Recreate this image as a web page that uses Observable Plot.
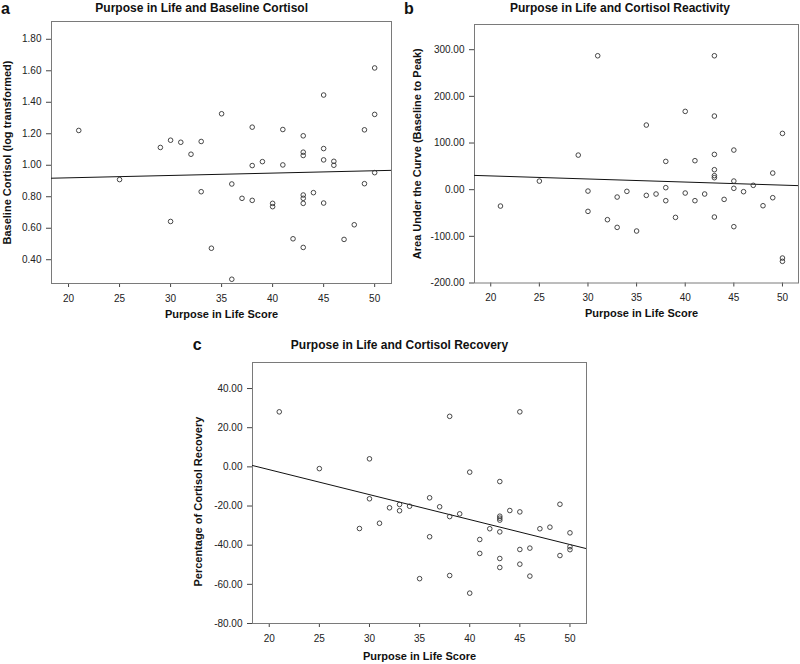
<!DOCTYPE html>
<html><head><meta charset="utf-8">
<script src="https://cdn.jsdelivr.net/npm/d3@7"></script>
<script src="https://cdn.jsdelivr.net/npm/@observablehq/plot@0.6"></script>
<style>
body{margin:0;background:#fff;}
#wrap{position:relative;width:800px;height:664px;font-family:"Liberation Sans",Arial,sans-serif;color:#111;overflow:hidden;}
.panel{position:absolute;}
.t{position:absolute;font-weight:bold;font-size:12px;line-height:12px;white-space:nowrap;transform:translateX(-50%);}
.l{position:absolute;font-weight:bold;font-size:16px;line-height:16px;}
</style></head><body>
<div id="wrap">
  <div class="l" style="left:1px;top:0.5px">a</div>
  <div class="l" style="left:404px;top:0.5px">b</div>
  <div class="l" style="left:192.7px;top:337.2px">c</div>
  <div class="t" style="left:201.7px;top:1.8px">Purpose in Life and Baseline Cortisol</div>
  <div class="t" style="left:620px;top:1.8px">Purpose in Life and Cortisol Reactivity</div>
  <div class="t" style="left:399.5px;top:338.8px">Purpose in Life and Cortisol Recovery</div>
</div>
<script>
// Shared x axis
const xTicks = [20, 25, 30, 35, 40, 45, 50];
const xDomain = [18.33, 51.65];
const xLabel = "Purpose in Life Score";

// Panel a: Purpose in Life vs Baseline Cortisol (log transformed)
const scoreA = [21,25,29,30,30,31,32,33,33,34,35,36,36,37,38,38,38,39,40,40,41,41,42,43,43,43,43,43,43,43,44,45,45,45,45,46,46,47,48,49,49,50,50,50];
const baseA = [1.221,0.909,1.113,1.159,0.643,1.146,1.070,1.151,0.832,0.473,1.327,0.881,0.276,0.790,1.242,0.998,0.777,1.023,0.758,0.737,1.227,1.002,0.533,1.187,1.083,1.062,0.811,0.790,0.758,0.478,0.826,1.446,1.106,1.034,0.760,1.025,1.000,0.529,0.622,1.225,0.883,1.618,1.323,0.953];
const yTicksA = [0.4, 0.6, 0.8, 1.0, 1.2, 1.4, 1.6, 1.8];
const yLabelA = "Baseline Cortisol (log transformed)";

// Panel b: Purpose in Life vs Area Under the Curve
const scoreB = [21,25,29,30,30,31,32,33,33,34,35,36,36,37,38,38,38,39,40,40,41,41,42,43,43,43,43,43,43,43,44,45,45,45,45,46,47,48,49,49,50,50,50];
const aucB = [-35.1,18.4,74.1,-3,-46.5,287,-64.3,-15.8,-80.8,-3.6,-88.6,138.5,-12.2,-9.3,60.6,4.3,-23.6,-59.4,167.8,-7.2,62.1,-23.6,-9.3,287,157.8,75.6,42.8,30,25.7,-58.6,-20.8,84.9,18.5,2.9,-79.3,-4.3,9.3,-34.4,35.6,-17.2,120.6,-146.5,-153.6];
const yTicksB = [-200, -100, 0, 100, 200, 300];
const yLabelB = "Area Under the Curve (Baseline to Peak)";

// Panel c: Purpose in Life vs Percentage of Cortisol Recovery
const scoreC = [21,25,29,30,30,31,32,33,33,34,35,36,36,37,38,38,38,39,40,40,41,41,42,43,43,43,43,43,43,43,44,45,45,45,45,46,46,47,48,49,49,50,50,50];
const recC = [28.1,-0.9,-31.5,4.1,-16.3,-28.8,-20.9,-19.2,-22.4,-20.1,-57.1,-15.8,-35.7,-20.4,25.8,-25.4,-55.5,-24.0,-2.7,-64.5,-37.1,-44.2,-31.6,-7.5,-25.2,-26.2,-27.2,-33.2,-46.8,-51.4,-22.3,28.1,-23.0,-42.2,-49.7,-41.5,-55.8,-31.6,-30.8,-19.1,-45.3,-33.7,-40.8,-42.3];
const yTicksC = [-80, -60, -40, -20, 0, 20, 40];
const yLabelC = "Percentage of Cortisol Recovery";

const FONT = '"Liberation Sans", Arial, sans-serif';

function fit(xs, ys) {
  const mx = d3.mean(xs), my = d3.mean(ys);
  const b = d3.sum(xs, (x, i) => (x - mx) * (ys[i] - my)) / d3.sum(xs, x => (x - mx) ** 2);
  return {a: my - b * mx, b};
}

function panel(o) {
  const pts = o.xs.map((x, i) => ({x, y: o.ys[i]}));
  const {a, b} = fit(o.xs, o.ys);
  const fitLine = xDomain.map(x => ({x, y: a + b * x}));
  const svg = Plot.plot({
    width: o.width, height: o.height,
    marginTop: o.m[0], marginRight: o.m[1], marginBottom: o.m[2], marginLeft: o.m[3],
    style: {fontFamily: FONT, fontSize: "10px", color: "#222", background: "transparent", overflow: "visible"},
    x: {domain: xDomain},
    y: {domain: o.yDomain},
    marks: [
      Plot.axisY({ticks: o.yTicks, tickSize: 5, tickPadding: 5, tickFormat: d => d.toFixed(2), label: null, stroke: "#444"}),
      Plot.axisX({ticks: xTicks, tickSize: 4, tickPadding: 7, tickFormat: d => String(d), label: null, stroke: "#444"}),
      Plot.frame({stroke: "#7a7a7a", strokeWidth: 1}),
      Plot.line(fitLine, {x: "x", y: "y", stroke: "#111", strokeWidth: 1, clip: true}),
      Plot.dot(pts, {x: "x", y: "y", r: 2.3, stroke: "#333", strokeWidth: 0.9, fill: "none"}),
      Plot.text([xLabel], {text: d => d, frameAnchor: "bottom", textAnchor: "middle", dx: o.xLabelDx, dy: o.xLabelDy, fontWeight: "bold", fontSize: 11, lineAnchor: "middle", fill: "#111"}),
      Plot.text([o.yLabel], {text: d => d, frameAnchor: "left", textAnchor: "middle", rotate: -90, dx: o.yLabelDx, dy: o.yLabelDy, fontWeight: "bold", fontSize: 11, lineAnchor: "middle", fill: "#111"})
    ]
  });
  svg.classList.add("panel");
  svg.style.left = o.left + "px";
  svg.style.top = o.top + "px";
  document.getElementById("wrap").appendChild(svg);
}

panel({xs: scoreA, ys: baseA, yDomain: [0.249, 1.913], yTicks: yTicksA, yLabel: yLabelA,
  left: 0, top: 0, width: 400, height: 330, m: [21, 9, 47, 51],
  xLabelDx: 0, xLabelDy: 30.5, yLabelDx: -44.3, yLabelDy: 0});
panel({xs: scoreB, ys: aucB, yDomain: [-200, 354], yTicks: yTicksB, yLabel: yLabelB,
  left: 400, top: 0, width: 400, height: 330, m: [24, 2, 47.5, 74],
  xLabelDx: 5, xLabelDy: 30.5, yLabelDx: -57, yLabelDy: 0});
panel({xs: scoreC, ys: recC, yDomain: [-80, 53.3], yTicks: yTicksC, yLabel: yLabelC,
  left: 180, top: 330, width: 430, height: 334, m: [32, 24, 41, 72],
  xLabelDx: 0, xLabelDy: 33.3, yLabelDx: -54.3, yLabelDy: 8.6});
</script>
</body></html>
